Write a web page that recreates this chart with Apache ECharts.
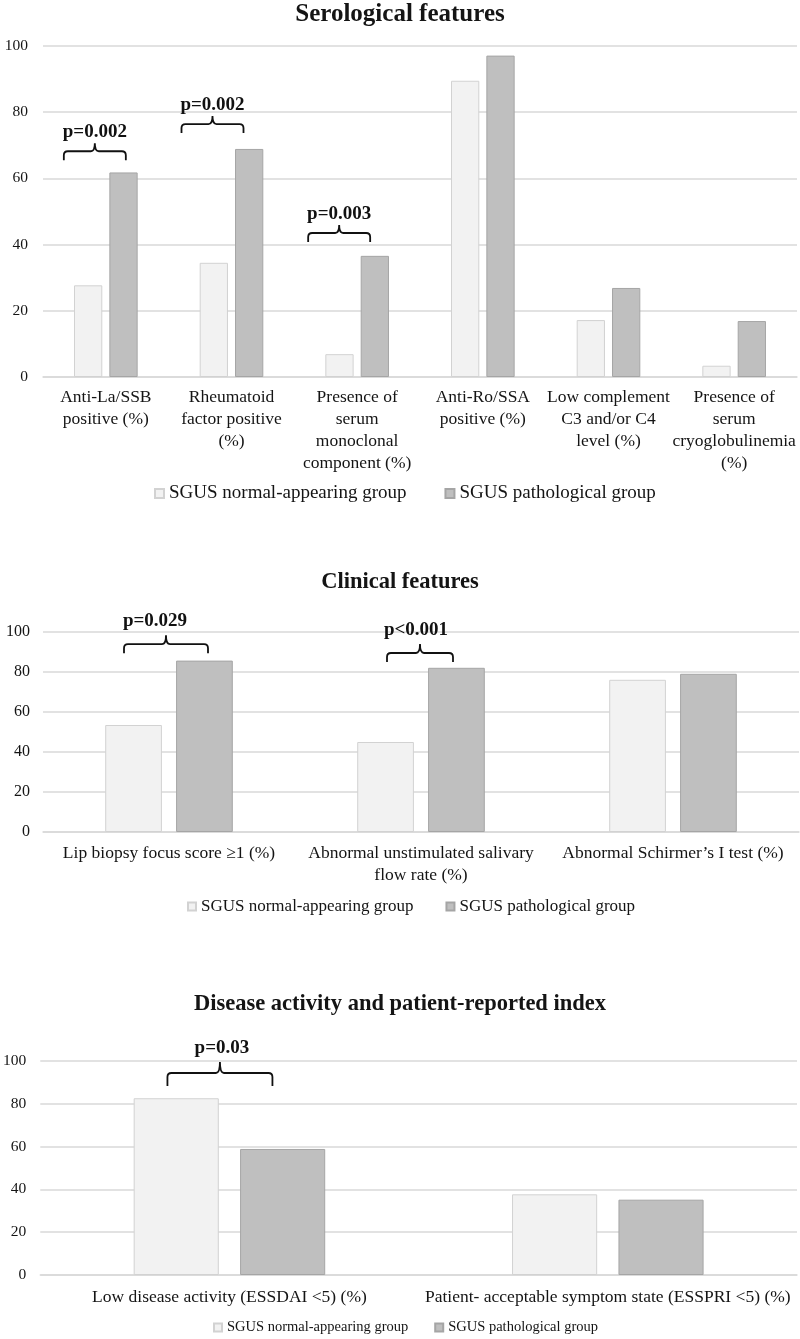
<!DOCTYPE html>
<html>
<head>
<meta charset="utf-8">
<script src="https://cdn.jsdelivr.net/npm/echarts@6/dist/echarts.min.js"></script>
<style>
html,body{margin:0;padding:0;background:#fff;}
#chart{width:800px;height:1339px;}
</style>
</head>
<body>
<div id="chart"></div>
<script>
// ---------- DATA ----------
const seriesNames = ['SGUS normal-appearing group', 'SGUS pathological group'];
const yTicks = [0, 20, 40, 60, 80, 100];

const seroCategories = ['Anti-La/SSB\npositive (%)', 'Rheumatoid\nfactor positive\n(%)', 'Presence of\nserum\nmonoclonal\ncomponent (%)', 'Anti-Ro/SSA\npositive (%)', 'Low complement\nC3 and/or C4\nlevel (%)', 'Presence of\nserum\ncryoglobulinemia\n(%)'];
const seroNormal = [27.7, 34.5, 6.9, 89.5, 17.2, 3.4];
const seroPath = [61.8, 68.9, 36.6, 97.1, 26.9, 16.9];
const seroPCats = [0, 1, 2];
const seroPLabels = ['p=0.002', 'p=0.002', 'p=0.003'];
const seroPLevels = [68.2, 76.4, 43.5];

const clinCategories = ['Lip biopsy focus score \u22651 (%)', 'Abnormal unstimulated salivary\nflow rate (%)', 'Abnormal Schirmer\u2019s I test (%)'];
const clinNormal = [53.5, 45.0, 76.1];
const clinPath = [85.7, 82.1, 79.1];
const clinPCats = [0, 1];
const clinPLabels = ['p=0.029', 'p<0.001'];
const clinPLevels = [93.9, 89.5];

const actCategories = ['Low disease activity (ESSDAI <5) (%)', 'Patient- acceptable symptom state (ESSPRI <5) (%)'];
const actNormal = [82.6, 37.7];
const actPath = [58.9, 35.2];
const actPCats = [0];
const actPLabels = ['p=0.03'];
const actPLevels = [94.4];

// ---------- STYLE / LAYOUT ----------
const FONT = "'Liberation Serif', 'Times New Roman', serif";
const TXT = '#141414';
const GRIDC = '#d9d9d9';
const normalStyle = { color: '#f2f2f2', borderColor: '#d2d2d2', borderWidth: 1 };
const pathStyle = { color: '#bfbfbf', borderColor: '#a5a5a5', borderWidth: 1 };

// bracket spans in px relative to category centre, text offsets
const seroBr = { spans: [[-42, 20], [-50, 12], [-49, 13]], textDx: [0, 0, 0], tip: 8, arm: 9, textDy: 19 };
const clinBr = { spans: [[-45, 39], [-34, 32]], textDx: [-11, -4], tip: 9, arm: 9, textDy: 23 };
const actBr = { spans: [[-62, 43]], textDx: [2], tip: 11, arm: 13, textDy: 25 };

function bracketSeries(gi, cats, levels, labels, br) {
  return {
    type: 'custom',
    xAxisIndex: gi, yAxisIndex: gi,
    clip: false, silent: true, z: 10,
    data: cats.map((c, i) => [c, levels[i]]),
    renderItem: function (params, api) {
      const i = params.dataIndex;
      const p = api.coord([api.value(0), api.value(1)]);
      const x0 = p[0] + br.spans[i][0], x1 = p[0] + br.spans[i][1];
      const xc = (x0 + x1) / 2, y = p[1];
      const r = 4, yt = y - br.tip, ya = y + br.arm;
      const d = 'M' + x0 + ',' + ya + ' L' + x0 + ',' + (y + r) +
        ' Q' + x0 + ',' + y + ' ' + (x0 + r) + ',' + y +
        ' L' + (xc - r) + ',' + y +
        ' Q' + xc + ',' + y + ' ' + xc + ',' + yt +
        ' Q' + xc + ',' + y + ' ' + (xc + r) + ',' + y +
        ' L' + (x1 - r) + ',' + y +
        ' Q' + x1 + ',' + y + ' ' + x1 + ',' + (y + r) +
        ' L' + x1 + ',' + ya;
      return {
        type: 'group',
        children: [
          { type: 'path', shape: { pathData: d }, style: { fill: 'none', stroke: '#111', lineWidth: 1.8 } },
          { type: 'text', style: { text: labels[i], x: xc + br.textDx[i], y: y - br.textDy, align: 'center', verticalAlign: 'middle', fontFamily: FONT, fontWeight: 'bold', fontSize: 19, fill: '#111' } }
        ]
      };
    }
  };
}

function xAxisCfg(gi, cats, margin) {
  return {
    type: 'category', gridIndex: gi, data: cats,
    axisLine: { show: true, lineStyle: { color: GRIDC, width: 1.5 } },
    axisTick: { show: false },
    axisLabel: { interval: 0, color: TXT, fontFamily: FONT, fontSize: 17.5, lineHeight: 22, margin: margin }
  };
}
function yAxisCfg(gi, margin, fs) {
  return {
    type: 'value', gridIndex: gi, min: yTicks[0], max: yTicks[yTicks.length - 1], interval: yTicks[1] - yTicks[0],
    axisLine: { show: false }, axisTick: { show: false },
    splitLine: { lineStyle: { color: GRIDC, width: 1.5 } },
    axisLabel: { color: TXT, fontFamily: FONT, fontSize: fs, margin: margin }
  };
}
function barPair(gi, normal, path) {
  return [
    { name: seriesNames[0], type: 'bar', xAxisIndex: gi, yAxisIndex: gi, data: normal, barWidth: '22.5%', barGap: '25%', itemStyle: normalStyle },
    { name: seriesNames[1], type: 'bar', xAxisIndex: gi, yAxisIndex: gi, data: path, barWidth: '22.5%', barGap: '25%', itemStyle: pathStyle }
  ];
}
function legendCfg(left, top, fs, gap, iw) {
  return {
    data: seriesNames, left: left, top: top, itemWidth: iw, itemHeight: iw, itemGap: gap, padding: 0,
    selectedMode: false, icon: 'rect',
    textStyle: { color: TXT, fontFamily: FONT, fontSize: fs }
  };
}

const chart = echarts.init(document.getElementById('chart'), null, { renderer: 'canvas' });
chart.setOption({
  animation: false,
  backgroundColor: '#fff',
  title: [
    { text: 'Serological features', left: 'center', top: 2, padding: 0, textStyle: { fontFamily: FONT, fontWeight: 'bold', fontSize: 25, color: TXT } },
    { text: 'Clinical features', left: 'center', top: 571, padding: 0, textStyle: { fontFamily: FONT, fontWeight: 'bold', fontSize: 22.5, color: TXT } },
    { text: 'Disease activity and patient-reported index', left: 'center', top: 993, padding: 0, textStyle: { fontFamily: FONT, fontWeight: 'bold', fontSize: 22.5, color: TXT } }
  ],
  legend: [
    legendCfg(154, 484, 19, 38, 9),
    legendCfg(187, 898, 17, 32, 8),
    legendCfg(213, 1320, 14.5, 26, 8)
  ],
  grid: [
    { left: 43, right: 3, top: 46, height: 331 },
    { left: 43, right: 1, top: 632, height: 200 },
    { left: 40, right: 3, top: 1061, height: 214 }
  ],
  xAxis: [xAxisCfg(0, seroCategories, 9), xAxisCfg(1, clinCategories, 10), xAxisCfg(2, actCategories, 11)],
  yAxis: [yAxisCfg(0, 15, 15.5), yAxisCfg(1, 13, 16), yAxisCfg(2, 14, 15.5)],
  series: [].concat(
    barPair(0, seroNormal, seroPath),
    barPair(1, clinNormal, clinPath),
    barPair(2, actNormal, actPath),
    [bracketSeries(0, seroPCats, seroPLevels, seroPLabels, seroBr),
     bracketSeries(1, clinPCats, clinPLevels, clinPLabels, clinBr),
     bracketSeries(2, actPCats, actPLevels, actPLabels, actBr)]
  )
});
</script>
</body>
</html>
